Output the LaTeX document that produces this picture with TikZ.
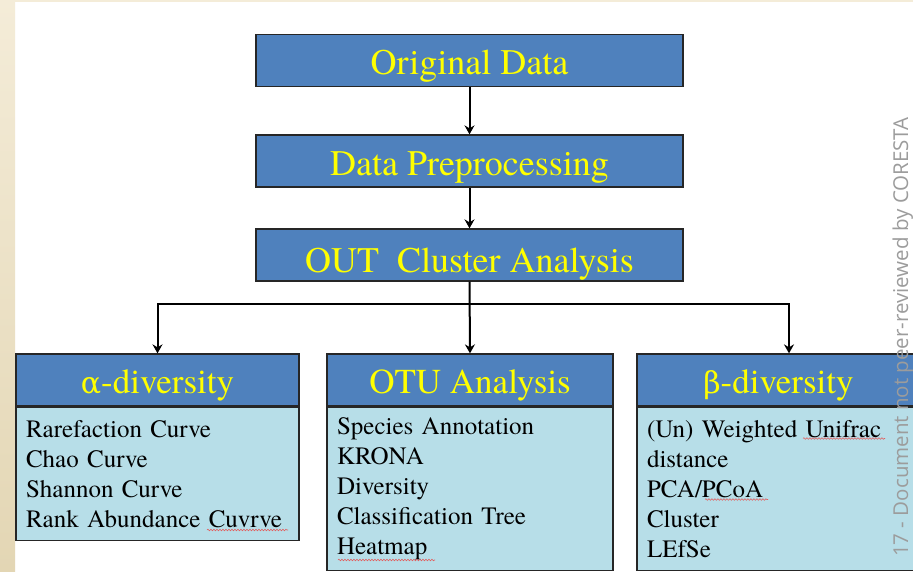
\documentclass[tikz,border=0pt]{standalone}
\usepackage{fontspec}
\setmainfont{texgyretermes}[Extension=.otf, UprightFont=*-regular, BoldFont=*-bold,
	ItalicFont=*-italic, BoldItalicFont=*-bolditalic]
\newfontfamily\greco{DejaVu Serif}
\newfontfamily\sansFiligrana{Open Sans}
\usetikzlibrary{positioning,arrows.meta,decorations.pathmorphing}

\definecolor{bluScatola}{HTML}{4F81BD}
\definecolor{azzurro}{HTML}{B7DEE8}
\definecolor{giallo}{HTML}{FFFF00}
\definecolor{beige}{HTML}{F4ECD8}
\definecolor{beigeScuro}{HTML}{E3D6B4}
\definecolor{grigio}{HTML}{9C9C9C}
\definecolor{rossoErr}{HTML}{E06060}

\def\lettera#1{{\greco\fontsize{30}{35}\selectfont #1}}

\begin{document}
\begin{tikzpicture}[x=1pt,y=-1pt,
		blocco/.style={draw=black!85, line width=1.3pt, fill=bluScatola, text=giallo,
			font=\fontsize{36}{40}\selectfont, minimum width=427pt, minimum height=52pt,
			inner sep=0pt, text height=28pt, text depth=0pt},
		testata/.style={blocco, font=\fontsize{35}{40}\selectfont, text height=26pt},
		corpo/.style={draw=black!85, line width=1.3pt, fill=azzurro, text=black,
			font=\fontsize{25}{30}\selectfont, align=left, inner xsep=10pt, inner ysep=0pt},
		freccia/.style={line width=2pt, -{Stealth[length=9pt,width=10pt,inset=3pt]}},
		errore/.style={rossoErr, line width=0.6pt, decorate,
			decoration={snake, amplitude=0.8pt, segment length=3pt}},
		]
		% ── Sfondo (pagina con bordo beige) ──
		\useasboundingbox (0,0) rectangle (913,571);
		\fill[white] (0,0) rectangle (913,571);
		\shade[top color=beige, bottom color=beigeScuro] (0,0) rectangle (15,571);
		\fill[beige] (15,0) rectangle (913,2);
		
		% ── Catena principale ──
		\node[blocco] (originali) at (469.5,60.5) {Original Data};
		\node[blocco] (preproc)   at (469.5,161)  {Data Preprocessing};
		\node[blocco, text height=34pt] (cluster) at (469.5,255) {OUT\ \ Cluster Analysis};
		
		\draw[freccia] (originali.south) -- (preproc.north);
		\draw[freccia] (preproc.south) -- (cluster.north);
		
		% ── Tre rami ──
		\node[testata, minimum width=283pt] (alfa) at (157.5,380) {\lettera{α}-diversity};
		\node[corpo, text width=263pt, minimum height=133pt, below=0pt of alfa] (alfacorpo)
		{Rarefaction Curve\\Chao Curve\\Shannon Curve\\Rank Abundance Cuvrve};
		
		\node[testata, minimum width=286pt] (otu) at (470,380) {OTU Analysis};
		\node[corpo, text width=266pt, minimum height=163pt, below=0pt of otu] (otucorpo)
		{Species Annotation\\KRONA\\Diversity\\Classification Tree\\Heatmap};
		
		\node[testata, minimum width=283pt] (beta) at (778.5,380) {\lettera{β}-diversity};
		\node[corpo, text width=263pt, minimum height=163pt, below=0pt of beta] (betacorpo)
		{(Un) Weighted Unifrac\\distance\\PCA/PCoA\\Cluster\\LEfSe};
		
		% ── Connettori ──
		\coordinate (biforcazione) at (cluster.south |- 0,304);
		\draw[freccia] (cluster.south) -- (otu.north);
		\draw[freccia] (biforcazione) -| (alfa.north);
		\draw[freccia] (biforcazione) -| ([xshift=10.5pt]beta.north);
		
		% ── Sottolineature del correttore ──
		\draw[errore] (207,530) -- (288,530);
		\draw[errore] (338,560) -- (435,560);
		\draw[errore] (803,438.5) -- (885,438.5);
		\draw[errore] (705,499.5) -- (768,499.5);
		
		% ── Filigrana laterale ──
		\node[rotate=90, anchor=base east, text=grigio, inner sep=0pt,
		font=\sansFiligrana\fontsize{20.5}{24}\selectfont] (filigrana) at (908,117)
		{17 - Document not peer-reviewed by CORESTA};
	\end{tikzpicture}
\end{document}
